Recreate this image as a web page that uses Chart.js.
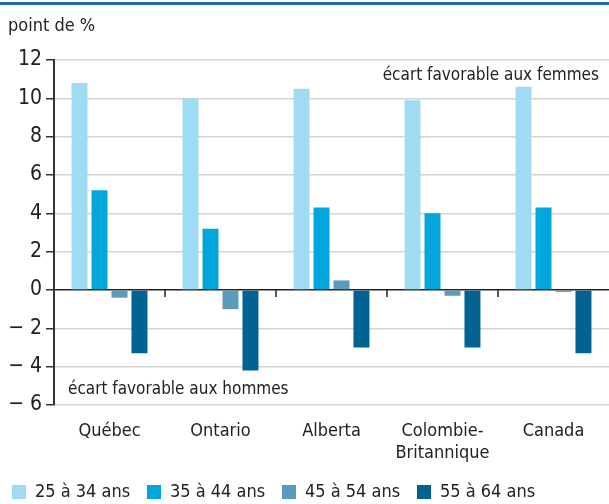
<!DOCTYPE html>
<html>
<head>
<meta charset="utf-8">
<script src="https://cdn.jsdelivr.net/npm/chart.js@4/dist/chart.umd.min.js"></script>
<style>
  body { margin: 0; background: #fff; }
  #wrap { width: 609px; height: 504px; }
</style>
</head>
<body>
<div id="wrap"><canvas id="gapChart" width="609" height="504"></canvas></div>
<script>
const provinces = ["Québec", "Ontario", "Alberta", ["Colombie-", "Britannique"], "Canada"];
const age25to34 = [10.8, 10.0, 10.5, 9.9, 10.6];
const age35to44 = [5.2, 3.2, 4.3, 4.0, 4.3];
const age45to54 = [-0.4, -1.0, 0.5, -0.3, -0.1];
const age55to64 = [-3.3, -4.2, -3.0, -3.0, -3.3];
const yTicks = [-6, -4, -2, 0, 2, 4, 6, 8, 10, 12];

const FONT = "'Liberation Sans Narrow', 'DejaVu Sans Condensed', sans-serif";

// ligne bleue du haut, titre, notes, légende et petites marques sur la ligne zéro
const decorations = {
  id: "decorations",
  afterDraw(chart) {
    const ctx = chart.ctx;
    const x = chart.scales.x, y = chart.scales.y;
    const area = chart.chartArea;
    ctx.save();
    ctx.fillStyle = "#1f6e9c";
    ctx.fillRect(0, 2, chart.width, 3);

    ctx.fillStyle = "#222";
    ctx.font = "18px " + FONT;
    ctx.textBaseline = "middle";
    ctx.textAlign = "left";
    ctx.fillText("point de %", 8, 26);
    ctx.font = "17px " + FONT;
    ctx.fillText("écart favorable aux hommes", 68, y.getPixelForValue(-5.2));
    ctx.textAlign = "right";
    ctx.fillText("écart favorable aux femmes", area.right - 10, y.getPixelForValue(11.2));

    // marques entre les groupes
    const y0 = y.getPixelForValue(0);
    ctx.strokeStyle = "#222";
    ctx.lineWidth = 1.5;
    for (let i = 0; i < provinces.length - 1; i++) {
      const xb = (x.getPixelForValue(i) + x.getPixelForValue(i + 1)) / 2;
      ctx.beginPath();
      ctx.moveTo(xb, y0);
      ctx.lineTo(xb, y0 + 7);
      ctx.stroke();
    }

    // légende
    ctx.font = "18px " + FONT;
    ctx.textAlign = "left";
    chart.data.datasets.forEach((ds, i) => {
      const lx = 12 + i * 135;
      ctx.fillStyle = ds.backgroundColor;
      ctx.fillRect(lx, 485, 14, 14);
      ctx.fillStyle = "#222";
      ctx.fillText(ds.label, lx + 23, 492);
    });
    ctx.restore();
  }
};

new Chart(document.getElementById("gapChart"), {
  type: "bar",
  data: {
    labels: provinces,
    datasets: [
      { label: "25 à 34 ans", data: age25to34, backgroundColor: "#9fdcf3" },
      { label: "35 à 44 ans", data: age35to44, backgroundColor: "#00a6dc" },
      { label: "45 à 54 ans", data: age45to54, backgroundColor: "#5b9cbc" },
      { label: "55 à 64 ans", data: age55to64, backgroundColor: "#006391" }
    ]
  },
  options: {
    responsive: false,
    animation: false,
    devicePixelRatio: 1,
    categoryPercentage: 0.72,
    barPercentage: 0.8,
    layout: { padding: { top: 60, right: 0, left: 0, bottom: 41 } },
    plugins: {
      tooltip: { enabled: false },
      legend: { display: false }
    },
    scales: {
      x: {
        grid: { display: false },
        border: { display: false },
        ticks: {
          color: "#222",
          font: { family: FONT, size: 18 },
          padding: 8,
          maxRotation: 0
        },
        afterFit(scale) { scale.height = 58; }
      },
      y: {
        min: -6,
        max: 12,
        afterBuildTicks(scale) { scale.ticks = yTicks.map(v => ({ value: v })); },
        afterFit(scale) { scale.width = 54; },
        border: { display: true, color: "#333", width: 2 },
        grid: {
          color: c => c.tick && c.tick.value === 0 ? "#222" : "#d4d4d4",
          lineWidth: 1.5,
          tickColor: "#333",
          tickLength: 8
        },
        ticks: {
          color: "#222",
          font: { family: FONT, size: 21 },
          padding: 4,
          callback: v => v < 0 ? "\u2212 " + Math.abs(v) : String(v)
        }
      }
    }
  },
  plugins: [decorations]
});
</script>
</body>
</html>
